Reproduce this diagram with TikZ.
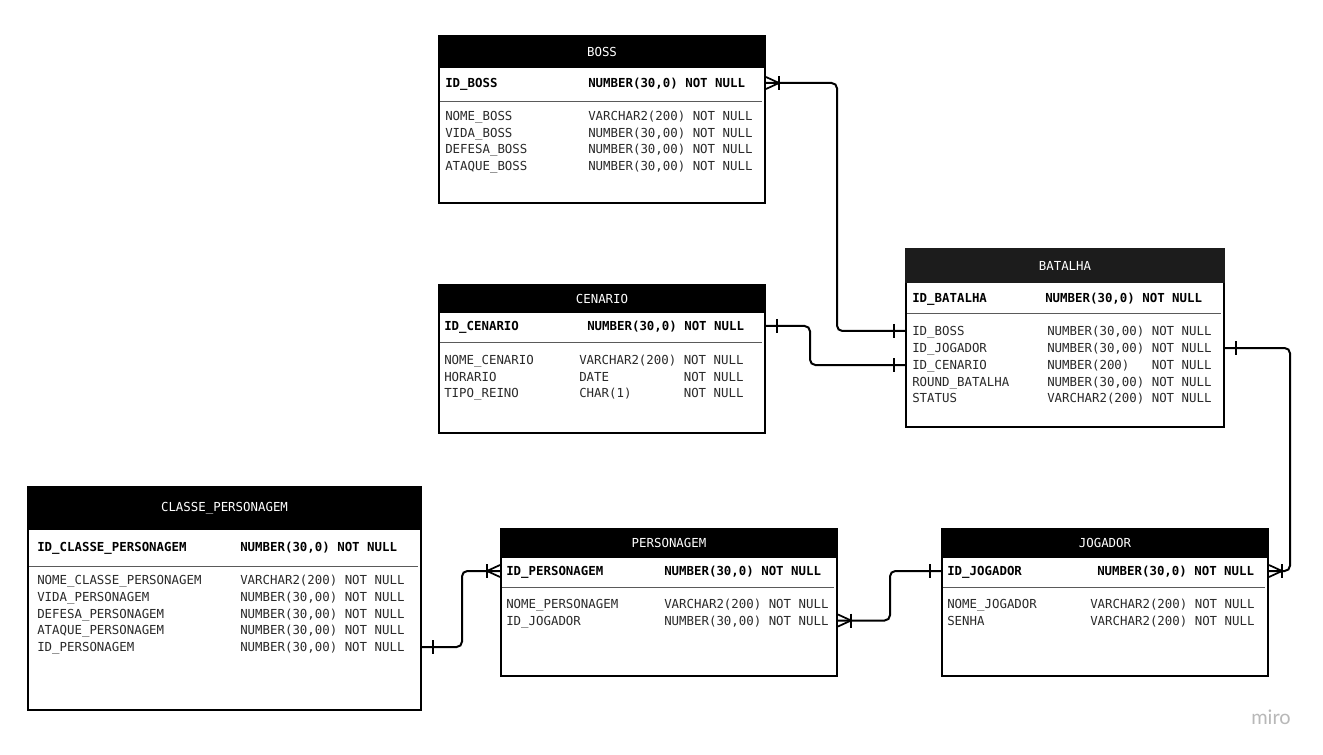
\documentclass[tikz,border=0pt]{standalone}
\usepackage{fontspec}
\setmonofont{DejaVu Sans Mono}
\newfontfamily\logofont{Lato}
\usetikzlibrary{calc}
\definecolor{txt}{HTML}{2A2A2A}
\definecolor{sepc}{HTML}{5A5A5A}
\definecolor{hdrtwo}{HTML}{1C1C1C}
\definecolor{logoc}{HTML}{B8B8B8}
\newcommand\mono{\ttfamily\fontsize{9.3}{11}\selectfont}
\tikzset{
 tbox/.style={draw=black, line width=1.5pt, inner sep=0pt, anchor=north west},
 ttl/.style={text=white, font=\mono, inner sep=0pt},
 fld/.style={anchor=west, inner sep=0pt, text height=6.8pt, text depth=0pt, text=txt, font=\mono},
 fldb/.style={fld, text=black, font=\mono\bfseries},
 sepl/.style={draw=sepc, line width=0.6pt},
 conn/.style={line width=1.5pt, rounded corners=4pt},
 mk/.style={line width=1.3pt},
}
% name, x, y, w, h, header height, title, header colour
\newcommand\ertable[8]{%
 \node[tbox, minimum width=#4*0.75pt, minimum height=#5*0.75pt] (#1) at (#2,#3) {};
 \fill[#8] (#1.north west) rectangle ($(#1.north east)+(0,#6)$);
 \node[ttl] (#1-t) at ($(#1.north)+(0,#6/2)$) {#7};}
\newcommand\manyR[1]{\draw[mk] (#1) ++(0,-6) -- ++(13,6) -- ++(-13,6); \draw[mk] (#1) ++(13,-7) -- ++(0,14);}
\newcommand\manyL[1]{\draw[mk] (#1) ++(0,-6) -- ++(-13,6) -- ++(13,6); \draw[mk] (#1) ++(-13,-7) -- ++(0,14);}
\newcommand\oneR[1]{\draw[mk] (#1) ++(11,-7) -- ++(0,14);}
\newcommand\oneL[1]{\draw[mk] (#1) ++(-11,-7) -- ++(0,14);}
\begin{document}
\begin{tikzpicture}[x=0.75pt, y=-0.75pt]
\useasboundingbox[fill=white] (0,0) rectangle (1323,755);

% ---------- BOSS ----------
\ertable{boss}{438}{35}{326}{167}{33}{BOSS}{black}
\node[fldb] (bossid) at (445,83) {ID\_BOSS};
\node[fldb] (bossidt) at (588,83) {NUMBER(30,0) NOT NULL};
\draw[sepl] (440,101) -- (762,101);
\node[fld] (boss1) at (445,116) {NOME\_BOSS};
\node[fld] (boss1t) at (588,116) {VARCHAR2(200) NOT NULL};
\node[fld] (boss2) at (445,132.5) {VIDA\_BOSS};
\node[fld] (boss2t) at (588,132.5) {NUMBER(30,00) NOT NULL};
\node[fld] (boss3) at (445,149) {DEFESA\_BOSS};
\node[fld] (boss3t) at (588,149) {NUMBER(30,00) NOT NULL};
\node[fld] (boss4) at (445,165.5) {ATAQUE\_BOSS};
\node[fld] (boss4t) at (588,165.5) {NUMBER(30,00) NOT NULL};

% ---------- CENARIO ----------
\ertable{cenario}{438}{284}{326}{148}{29}{CENARIO}{black}
\node[fldb] (cenid) at (444,326) {ID\_CENARIO};
\node[fldb] (cenidt) at (587,326) {NUMBER(30,0) NOT NULL};
\draw[sepl] (440,342) -- (762,342);
\node[fld] (cen1) at (444,360) {NOME\_CENARIO};
\node[fld] (cen1t) at (579,360) {VARCHAR2(200) NOT NULL};
\node[fld] (cen2) at (444,377) {HORARIO};
\node[fld] (cen2t) at (579,377) {DATE~~~~~~~~~~NOT NULL};
\node[fld] (cen3) at (444,393) {TIPO\_REINO};
\node[fld] (cen3t) at (579,393) {CHAR(1)~~~~~~~NOT NULL};

% ---------- BATALHA ----------
\ertable{batalha}{905}{248}{318}{178}{35}{BATALHA}{hdrtwo}
\node[fldb] (batid) at (912,298) {ID\_BATALHA};
\node[fldb] (batidt) at (1045,298) {NUMBER(30,0) NOT NULL};
\draw[sepl] (907,313) -- (1221,313);
\node[fld] (batboss) at (912,331) {ID\_BOSS};
\node[fld] (batbosst) at (1047,331) {NUMBER(30,00) NOT NULL};
\node[fld] (batjog) at (912,348) {ID\_JOGADOR};
\node[fld] (batjogt) at (1047,348) {NUMBER(30,00) NOT NULL};
\node[fld] (batcen) at (912,365) {ID\_CENARIO};
\node[fld] (batcent) at (1047,365) {NUMBER(200)~~~NOT NULL};
\node[fld] (batrnd) at (912,381.5) {ROUND\_BATALHA};
\node[fld] (batrndt) at (1047,381.5) {NUMBER(30,00) NOT NULL};
\node[fld] (batst) at (912,398) {STATUS};
\node[fld] (batstt) at (1047,398) {VARCHAR2(200) NOT NULL};

% ---------- CLASSE_PERSONAGEM ----------
\ertable{classe}{27}{486}{393}{223}{44}{CLASSE\_PERSONAGEM}{black}
\node[fldb] (clsid) at (37,547) {ID\_CLASSE\_PERSONAGEM};
\node[fldb] (clsidt) at (240,547) {NUMBER(30,0) NOT NULL};
\draw[sepl] (29,566) -- (418,566);
\node[fld] (cls1) at (37,580) {NOME\_CLASSE\_PERSONAGEM};
\node[fld] (cls1t) at (240,580) {VARCHAR2(200) NOT NULL};
\node[fld] (cls2) at (37,597) {VIDA\_PERSONAGEM};
\node[fld] (cls2t) at (240,597) {NUMBER(30,00) NOT NULL};
\node[fld] (cls3) at (37,613.5) {DEFESA\_PERSONAGEM};
\node[fld] (cls3t) at (240,613.5) {NUMBER(30,00) NOT NULL};
\node[fld] (cls4) at (37,630) {ATAQUE\_PERSONAGEM};
\node[fld] (cls4t) at (240,630) {NUMBER(30,00) NOT NULL};
\node[fld] (clsper) at (37,647) {ID\_PERSONAGEM};
\node[fld] (clspert) at (240,647) {NUMBER(30,00) NOT NULL};

% ---------- PERSONAGEM ----------
\ertable{personagem}{500}{528}{336}{147}{30}{PERSONAGEM}{black}
\node[fldb] (perid) at (506,571) {ID\_PERSONAGEM};
\node[fldb] (peridt) at (664,571) {NUMBER(30,0) NOT NULL};
\draw[sepl] (502,587) -- (834,587);
\node[fld] (per1) at (506,603.5) {NOME\_PERSONAGEM};
\node[fld] (per1t) at (664,603.5) {VARCHAR2(200) NOT NULL};
\node[fld] (perjog) at (506,620.5) {ID\_JOGADOR};
\node[fld] (perjogt) at (664,620.5) {NUMBER(30,00) NOT NULL};

% ---------- JOGADOR ----------
\ertable{jogador}{941}{528}{326}{147}{30}{JOGADOR}{black}
\node[fldb] (jogid) at (947,571) {ID\_JOGADOR};
\node[fldb] (jogidt) at (1097,571) {NUMBER(30,0) NOT NULL};
\draw[sepl] (943,587) -- (1265,587);
\node[fld] (jog1) at (947,603.5) {NOME\_JOGADOR};
\node[fld] (jog1t) at (1090,603.5) {VARCHAR2(200) NOT NULL};
\node[fld] (jog2) at (947,620.5) {SENHA};
\node[fld] (jog2t) at (1090,620.5) {VARCHAR2(200) NOT NULL};

% ---------- connectors ----------
\coordinate (c1a) at (boss.east |- bossid);
\coordinate (c1b) at (batalha.west |- batboss);
\draw[conn] (c1a) -- ++(71,0) |- (c1b);
\manyR{c1a} \oneL{c1b}

\coordinate (c2a) at (cenario.east |- cenid);
\coordinate (c2b) at (batalha.west |- batcen);
\draw[conn] (c2a) -- ++(44,0) |- (c2b);
\oneR{c2a} \oneL{c2b}

\coordinate (c3a) at (batalha.east |- batjog);
\coordinate (c3b) at (jogador.east |- jogid);
\draw[conn] (c3a) -- ++(65,0) |- (c3b);
\oneR{c3a} \manyR{c3b}

\coordinate (c4a) at (jogador.west |- jogid);
\coordinate (c4b) at (personagem.east |- perjog);
\draw[conn] (c4a) -- ++(-51,0) |- (c4b);
\oneL{c4a} \manyR{c4b}

\coordinate (c5a) at (classe.east |- clsper);
\coordinate (c5b) at (personagem.west |- perid);
\draw[conn] (c5a) -- ++(40,0) |- (c5b);
\oneR{c5a} \manyL{c5b}

\node[text=logoc, font=\logofont\fontsize{15}{15}\selectfont, inner sep=0pt] (miro) at (1271,717) {miro};
\end{tikzpicture}
\end{document}
